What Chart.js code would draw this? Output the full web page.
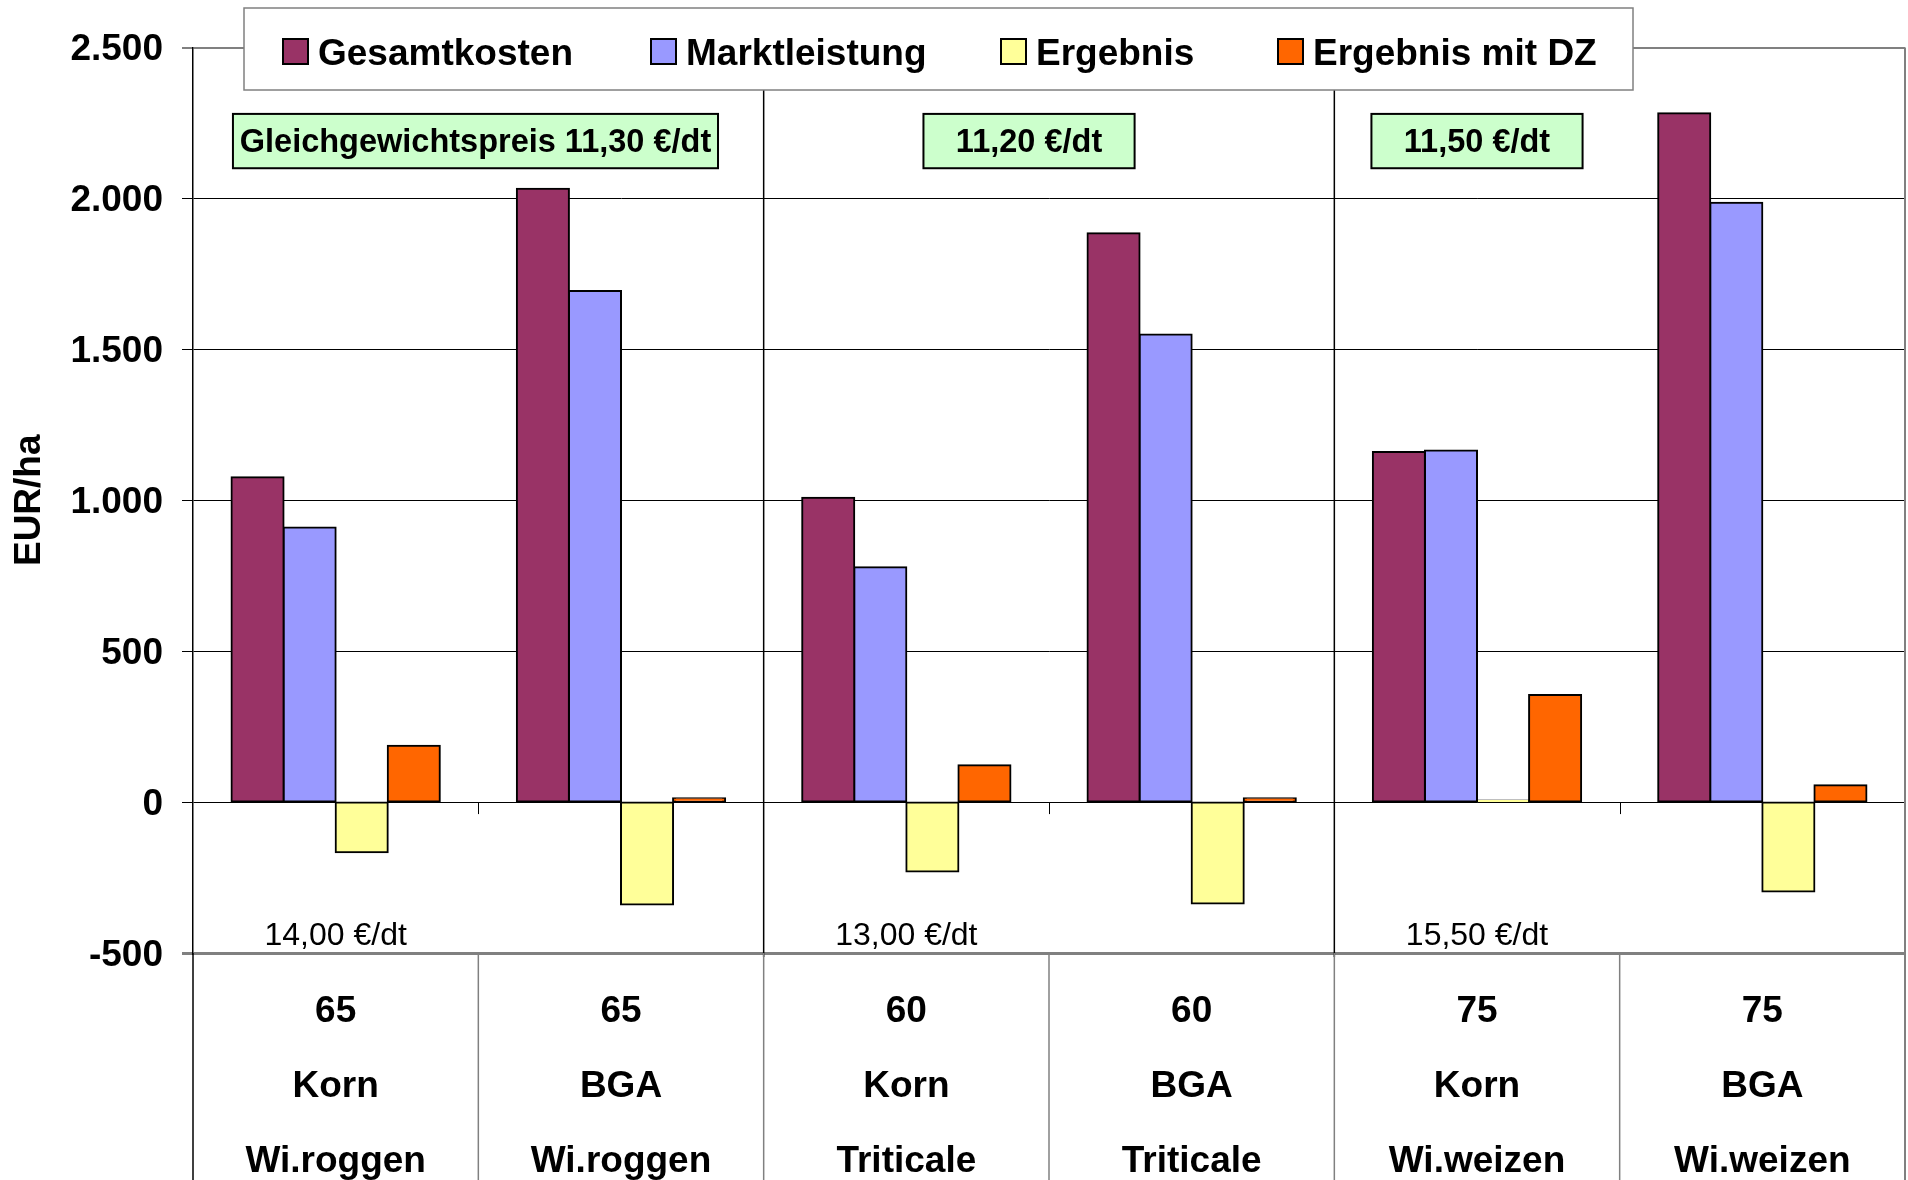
<!DOCTYPE html>
<html lang="de">
<head>
<meta charset="utf-8">
<title>Gesamtkosten und Marktleistung je Hektar</title>
<script src="https://cdn.jsdelivr.net/npm/chart.js@4/dist/chart.umd.min.js"></script>
<style>
  html, body { margin: 0; padding: 0; background: #fff; overflow: hidden; }
  #wrap { width: 1908px; height: 1180px; }
</style>
</head>
<body>
<div id="wrap"><canvas id="c" width="1908" height="1180"></canvas></div>
<script>
// Categories: yield (dt/ha), use, crop
const categories = [
  ['65', 'Korn', 'Wi.roggen'],
  ['65', 'BGA', 'Wi.roggen'],
  ['60', 'Korn', 'Triticale'],
  ['60', 'BGA', 'Triticale'],
  ['75', 'Korn', 'Wi.weizen'],
  ['75', 'BGA', 'Wi.weizen']
];
const seriesNames = ['Gesamtkosten', 'Marktleistung', 'Ergebnis', 'Ergebnis mit DZ'];
// EUR/ha
const gesamtkosten  = [1076, 2032, 1008, 1885, 1160, 2282];
const marktleistung = [910, 1693, 778, 1549, 1165, 1986];
const ergebnis      = [-166, -339, -230, -336, 5, -296];
const ergebnisMitDZ = [187, 13, 122, 13, 355, 56];
const yTicks = [-500, 0, 500, 1000, 1500, 2000, 2500];
// grain prices written above the axis, per category
const priceLabels = ['14,00 €/dt', '', '13,00 €/dt', '', '15,50 €/dt', ''];
// equilibrium prices per crop
const equilibriumLabels = ['Gleichgewichtspreis 11,30 €/dt', '11,20 €/dt', '11,50 €/dt'];

const seriesColors = ['#993366', '#9999FF', '#FFFF99', '#FF6600'];
const FONT = '"Liberation Sans", Arial, Helvetica, sans-serif';
Chart.defaults.font.family = FONT;
Chart.defaults.color = '#000';

const fmt = v => (v < 0 ? '-' : '') + String(Math.abs(v)).replace(/\B(?=(\d{3})+(?!\d))/g, '.');

// Boxes for the equilibrium prices, in category / value units
const eqBoxes = [
  { from: -0.36, to: 1.34 },
  { from: 2.06, to: 2.80 },
  { from: 3.63, to: 4.37 }
];
const eqBoxTop = 2280, eqBoxBottom = 2100;

const decor = {
  id: 'decor',
  beforeDatasetsDraw(chart) {
    const { ctx, chartArea: a, scales: { x, y } } = chart;
    const z = y.getPixelForValue(0);
    ctx.save();
    // small ticks under the zero line between Korn and BGA
    ctx.strokeStyle = '#000';
    ctx.lineWidth = 1;
    [0.5, 2.5, 4.5].forEach(v => {
      const px = Math.round(x.getPixelForValue(v)) + 0.5;
      ctx.beginPath(); ctx.moveTo(px, z); ctx.lineTo(px, z + 12); ctx.stroke();
    });
    // separators between the crops
    ctx.lineWidth = 1.5;
    [1.5, 3.5].forEach(v => {
      const px = x.getPixelForValue(v);
      ctx.beginPath(); ctx.moveTo(px, a.top); ctx.lineTo(px, a.bottom + 4); ctx.stroke();
    });
    // right frame
    ctx.strokeStyle = '#808080';
    ctx.lineWidth = 2;
    ctx.beginPath(); ctx.moveTo(a.right, a.top); ctx.lineTo(a.right, chart.height); ctx.stroke();
    ctx.restore();
  },
  afterDatasetsDraw(chart) {
    const { ctx, scales: { x, y } } = chart;
    ctx.save();
    // equilibrium price boxes
    ctx.font = 'bold 32.5px ' + FONT;
    ctx.textAlign = 'center';
    ctx.textBaseline = 'middle';
    eqBoxes.forEach((b, i) => {
      const x0 = x.getPixelForValue(b.from), x1 = x.getPixelForValue(b.to);
      const y0 = y.getPixelForValue(eqBoxTop), y1 = y.getPixelForValue(eqBoxBottom);
      ctx.fillStyle = '#CCFFCC';
      ctx.fillRect(x0, y0, x1 - x0, y1 - y0);
      ctx.strokeStyle = '#000';
      ctx.lineWidth = 2;
      ctx.strokeRect(x0, y0, x1 - x0, y1 - y0);
      ctx.fillStyle = '#000';
      ctx.fillText(equilibriumLabels[i], (x0 + x1) / 2, (y0 + y1) / 2 + 2);
    });
    // grain prices
    ctx.font = '32px ' + FONT;
    ctx.textBaseline = 'alphabetic';
    const base = y.getPixelForValue(-500) - 8;
    priceLabels.forEach((t, i) => {
      if (t) ctx.fillText(t, x.getPixelForValue(i), base);
    });
    ctx.restore();
  },
  afterDraw(chart) {
    const { ctx, chartArea: a, scales: { x } } = chart;
    ctx.save();
    // cell lines of the category table below the plot
    ctx.strokeStyle = '#808080';
    ctx.lineWidth = 1.5;
    [0.5, 1.5, 2.5, 3.5, 4.5].forEach(v => {
      const px = x.getPixelForValue(v);
      ctx.beginPath(); ctx.moveTo(px, a.bottom); ctx.lineTo(px, chart.height); ctx.stroke();
    });
    ctx.strokeStyle = '#000';
    ctx.beginPath(); ctx.moveTo(a.left, a.bottom); ctx.lineTo(a.left, chart.height); ctx.stroke();

    // legend
    const L = { x: 244, y: 8, w: 1389, h: 82 };
    ctx.fillStyle = '#fff';
    ctx.fillRect(L.x, L.y, L.w, L.h);
    ctx.strokeStyle = '#808080';
    ctx.lineWidth = 1.5;
    ctx.strokeRect(L.x, L.y, L.w, L.h);
    const itemX = [283, 651, 1001, 1278];
    ctx.font = 'bold 37px ' + FONT;
    ctx.textAlign = 'left';
    ctx.textBaseline = 'middle';
    chart.data.datasets.forEach((ds, i) => {
      const sx = itemX[i];
      ctx.fillStyle = ds.backgroundColor;
      ctx.fillRect(sx, 39, 25, 25);
      ctx.strokeStyle = '#000';
      ctx.lineWidth = 2;
      ctx.strokeRect(sx, 39, 25, 25);
      ctx.fillStyle = '#000';
      ctx.fillText(ds.label, sx + 35, 55);
    });
    ctx.restore();
  }
};

const seriesData = [gesamtkosten, marktleistung, ergebnis, ergebnisMitDZ];

new Chart(document.getElementById('c'), {
  type: 'bar',
  data: {
    labels: categories,
    datasets: seriesNames.map((name, i) => ({
      label: name,
      data: seriesData[i],
      backgroundColor: seriesColors[i],
      borderColor: '#000',
      borderWidth: 2,
      borderSkipped: false,
      inflateAmount: 1,
      categoryPercentage: 0.73,
      barPercentage: 1.0
    }))
  },
  options: {
    responsive: false,
    devicePixelRatio: 1,
    animation: false,
    layout: { padding: { top: 47.5, right: 3, bottom: 0, left: 0 } },
    plugins: {
      legend: { display: false },
      tooltip: { enabled: false },
      title: { display: false }
    },
    scales: {
      x: {
        offset: true,
        grid: { display: false, drawTicks: false },
        border: { display: false },
        ticks: {
          autoSkip: false,
          maxRotation: 0,
          minRotation: 0,
          padding: 21.5,
          color: '#000',
          font: { size: 37, weight: 'bold', lineHeight: '75px' }
        },
        afterFit(s) { s.height = 227; }
      },
      y: {
        min: -500,
        max: 2500,
        afterBuildTicks(s) { s.ticks = yTicks.map(v => ({ value: v })); },
        grid: {
          color: c => (c.tick && (c.tick.value === 2500 || c.tick.value === -500)) ? '#808080' : '#000',
          lineWidth: c => c.tick && c.tick.value === -500 ? 3 : (c.tick && c.tick.value === 2500 ? 2 : 1),
          tickLength: 11,
          drawTicks: true
        },
        border: { display: true, color: '#000', width: 1.5 },
        ticks: {
          padding: 19,
          labelOffset: 2.5,
          color: '#000',
          font: { size: 37, weight: 'bold' },
          callback: v => fmt(v)
        },
        title: {
          display: true,
          text: 'EUR/ha',
          color: '#000',
          font: { size: 37, weight: 'bold' },
          padding: { top: 8, bottom: 0 }
        },
        afterFit(s) { s.width = 193; }
      }
    }
  },
  plugins: [decor]
});
</script>
</body>
</html>
